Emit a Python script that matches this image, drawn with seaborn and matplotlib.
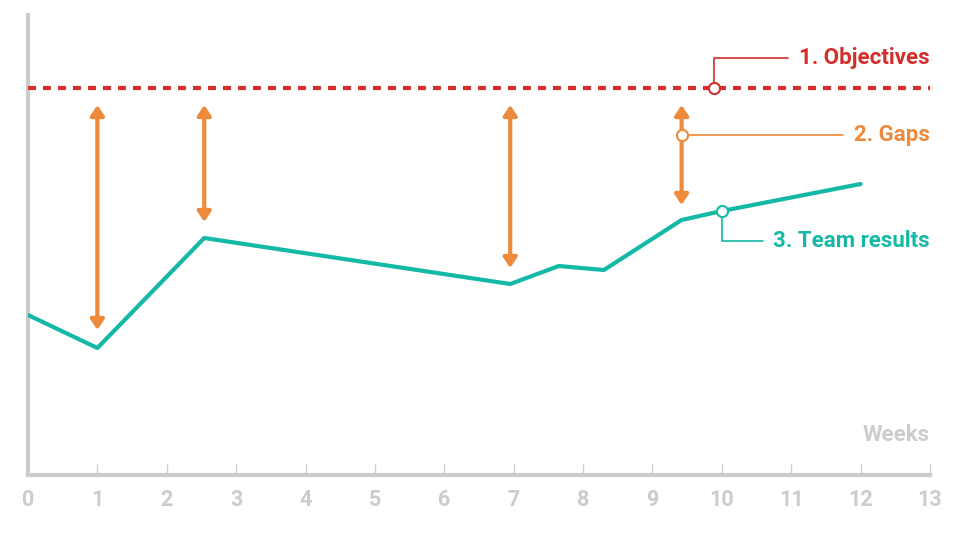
import matplotlib
matplotlib.use('Agg')
import matplotlib.pyplot as plt
import numpy as np
import pandas as pd
import seaborn as sns

# data (y in arbitrary "performance" units)
weeks = [0, 1, 2.54, 6.95, 7.65, 8.3, 9.42, 10.0, 12.0]
results = [160, 127, 237, 191, 209, 205, 255, 264, 291]
objective = 387
gap_weeks = [1.0, 2.54, 6.95, 9.42]
gap_top = [370, 370, 370, 370]
gap_bottom = [145, 253, 207, 270]
xticks = list(range(0, 14))

RED = '#d42e2b'
ORANGE = '#ee8a3c'
TEAL = '#13b9a6'
GREY = '#cccccc'

sns.set_style('white')
plt.rcParams['font.family'] = ['Roboto', 'DejaVu Sans']
plt.rcParams['font.weight'] = 'bold'

fig = plt.figure(figsize=(9.6, 5.4), dpi=100)
ax = fig.add_axes([28/960, 65/540, 902/960, 460/540])

df = pd.DataFrame({'week': weeks, 'result': results})
sns.lineplot(data=df, x='week', y='result', ax=ax, color=TEAL, linewidth=3, zorder=3)

# objective line
ax.plot([0, 13], [objective, objective], color=RED, linewidth=3,
        linestyle=(0, (1.9, 1.7)), zorder=3)

# gap arrows
for gx, top, bot in zip(gap_weeks, gap_top, gap_bottom):
    ax.annotate('', xy=(gx, top), xytext=(gx, bot),
                arrowprops=dict(arrowstyle='<|-|>,head_length=0.6,head_width=0.4',
                                color=ORANGE, lw=3, shrinkA=0, shrinkB=0), zorder=4)

# callouts
obj_x = 9.88
ax.plot([obj_x, obj_x, 10.95], [objective, 417, 417], color=RED, lw=1.2, zorder=2)
ax.plot(obj_x, objective, 'o', ms=8, mfc='white', mec=RED, mew=1.5, zorder=5)
ax.text(13, 417, '1. Objectives', color=RED, fontsize=16, fontweight='bold',
        ha='right', va='center')

gap_y = 340
ax.plot([9.42, 11.75], [gap_y, gap_y], color=ORANGE, lw=1.2, zorder=2)
ax.plot(9.42, gap_y, 'o', ms=8, mfc='white', mec=ORANGE, mew=1.5, zorder=5)
ax.text(13, gap_y, '2. Gaps', color=ORANGE, fontsize=16, fontweight='bold',
        ha='right', va='center')

tr_x = 10.0
ax.plot([tr_x, tr_x, 10.6], [264, 234, 234], color=TEAL, lw=1.2, zorder=2)
ax.plot(tr_x, 264, 'o', ms=8, mfc='white', mec=TEAL, mew=1.5, zorder=5)
ax.text(13, 234, '3. Team results', color=TEAL, fontsize=16, fontweight='bold',
        ha='right', va='center')

ax.text(13, 40, 'Weeks', color=GREY, fontsize=16, fontweight='bold',
        ha='right', va='center')

ax.set_xlim(0, 13)
ax.set_ylim(0, 460)
ax.set_xticks(xticks)
ax.set_xticklabels([str(t) for t in xticks])
ax.set_yticks([])
ax.set_xlabel('')
ax.set_ylabel('')
ax.tick_params(axis='x', direction='in', length=8, width=1, color=GREY,
               labelcolor=GREY, labelsize=15.5, pad=10, bottom=True)
for lab in ax.get_xticklabels():
    lab.set_fontweight('bold')
for s in ['top', 'right']:
    ax.spines[s].set_visible(False)
for s in ['left', 'bottom']:
    ax.spines[s].set_color(GREY)
    ax.spines[s].set_linewidth(3)

fig.savefig('out.png', dpi=100)
